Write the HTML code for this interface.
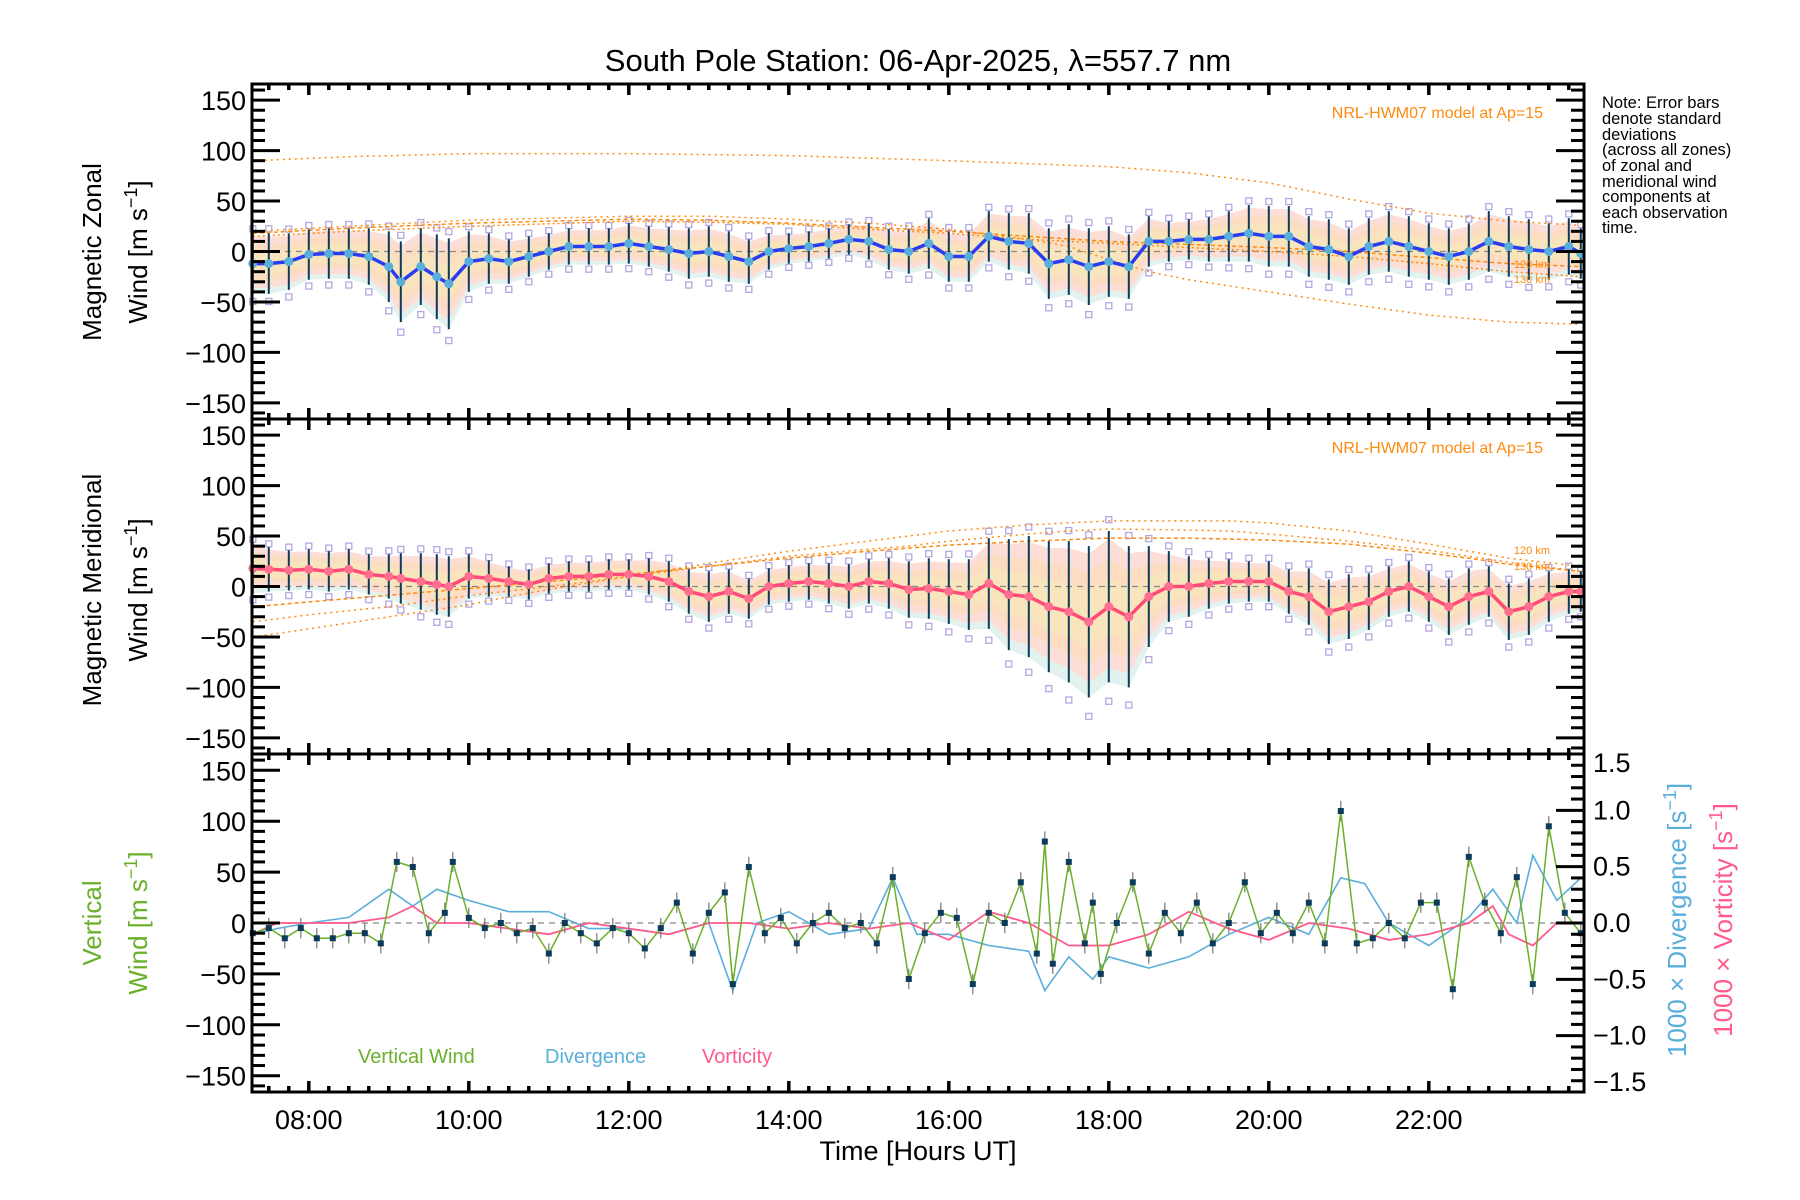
<!DOCTYPE html>
<html><head><meta charset="utf-8">
<style>
html,body{margin:0;padding:0;background:#fff;}
svg{display:block;font-family:"Liberation Sans",sans-serif;}
</style></head>
<body>
<svg id="chart" width="1800" height="1200" viewBox="0 0 1800 1200" xmlns="http://www.w3.org/2000/svg">
<text x="918" y="71" font-size="31" text-anchor="middle">South Pole Station: 06-Apr-2025, λ=557.7 nm</text>
<g font-size="16.5">
<text x="1602" y="108">Note: Error bars</text>
<text x="1602" y="124">denote standard</text>
<text x="1602" y="140">deviations</text>
<text x="1602" y="155">(across all zones)</text>
<text x="1602" y="171">of zonal and</text>
<text x="1602" y="187">meridional wind</text>
<text x="1602" y="202">components at</text>
<text x="1602" y="218">each observation</text>
<text x="1602" y="233">time.</text>
</g>
<g id="plots"></g>
<text x="918" y="1160" font-size="27" text-anchor="middle">Time [Hours UT]</text>
</svg>
<script>
// ---- data ----
const times = [7.3,7.5,7.75,8,8.25,8.5,8.75,9,9.15,9.4,9.6,9.75,10,10.25,10.5,10.75,11,11.25,11.5,11.75,12,12.25,12.5,12.75,13,13.25,13.5,13.75,14,14.25,14.5,14.75,15,15.25,15.5,15.75,16,16.25,16.5,16.75,17,17.25,17.5,17.75,18,18.25,18.5,18.75,19,19.25,19.5,19.75,20,20.25,20.5,20.75,21,21.25,21.5,21.75,22,22.25,22.5,22.75,23,23.25,23.5,23.75,23.9];
const zonalMean = [-12,-12,-10,-3,-2,-2,-5,-15,-30,-15,-25,-32,-10,-7,-10,-5,0,5,5,5,8,5,2,-2,0,-5,-10,0,3,5,8,12,10,2,0,8,-5,-5,15,10,8,-12,-8,-15,-10,-15,10,10,12,12,15,18,15,15,5,2,-5,5,10,5,0,-5,0,10,5,2,0,5,-2];
const zonalStd = [30,30,28,25,25,25,28,35,40,38,42,45,30,25,22,20,18,18,18,18,20,20,22,25,25,25,22,18,15,15,15,15,18,20,22,25,25,25,25,28,30,35,35,38,35,32,25,20,20,22,25,28,30,30,30,30,28,28,30,30,28,28,28,30,30,30,28,28,25];
const meridMean = [18,17,16,17,15,17,12,10,8,5,2,0,10,8,5,2,8,10,10,12,12,10,5,-5,-10,-5,-12,0,3,5,3,0,5,3,-3,-2,-5,-8,3,-8,-10,-20,-25,-35,-20,-30,-10,0,0,3,5,5,5,-5,-10,-25,-20,-15,-5,0,-10,-20,-10,-5,-25,-20,-10,-5,-5];
const meridStd = [25,22,20,20,20,20,20,22,25,28,30,30,22,18,15,15,15,15,15,15,15,18,20,22,25,22,20,18,18,18,20,22,22,25,28,30,32,35,45,55,60,65,70,75,75,70,50,35,30,25,22,20,20,22,28,32,32,28,25,25,25,28,28,25,28,28,25,22,20];
const modelZA = [[7.3,90],[8.5,94],[10,97],[12,97],[14,95],[16,90],[18,84],[19,78],[20,68],[21,52],[22,38],[23,30],[23.9,26]];
const modelZB = [[7.3,20],[8.5,25],[10,31],[12,35],[13,35],[14,32],[15,28],[16,22],[17,12],[17.5,5],[18,-8],[18.5,-20],[19,-28],[20,-40],[21,-52],[22,-63],[23,-70],[23.9,-72]];
const modelZ120 = [[7.3,18],[8.5,23],[10,28],[12,32],[13,31],[14,28],[15,24],[16,20],[17,15],[18,10],[19,7],[20,4],[21,0],[22,-6],[23,-12],[23.9,-15]];
const modelZ130 = [[7.3,15],[8.5,20],[10,25],[12,30],[13,29],[14,27],[15,22],[16,18],[17,12],[18,8],[19,4],[20,0],[21,-5],[22,-12],[23,-20],[23.9,-25]];
const modelMA = [[7.3,-50],[8,-42],[9,-30],[10,-18],[10.5,-10],[11,-3],[12,10],[13,23],[14,35],[15,45],[16,55],[17,61],[18,65],[19,65],[19.5,65],[20,63],[21,55],[22,42],[22.5,35],[23,28],[23.9,20]];
const modelMB = [[7.3,-35],[8,-28],[9,-20],[10,-9],[11,0],[12,10],[13,20],[14,30],[15,37],[15.5,40],[16,45],[17,52],[17.5,55],[18,57],[19,56],[19.5,55],[20,52],[21,45],[22,36],[22.5,30],[23,24],[23.9,15]];
const modelM120 = [[7.3,-20],[8.5,-12],[10,-2],[11,5],[12,12],[13,20],[14,28],[15,35],[16,41],[17,45],[18,48],[19,48],[20,46],[21,42],[22,33],[22.5,28],[23,22],[23.9,15]];
const vertTimes = [7.3,7.5,7.7,7.9,8.1,8.3,8.5,8.7,8.9,9.1,9.3,9.5,9.7,9.8,10,10.2,10.4,10.6,10.8,11,11.2,11.4,11.6,11.8,12,12.2,12.4,12.6,12.8,13,13.2,13.3,13.5,13.7,13.9,14.1,14.3,14.5,14.7,14.9,15.1,15.3,15.5,15.7,15.9,16.1,16.3,16.5,16.7,16.9,17.1,17.2,17.3,17.5,17.7,17.8,17.9,18.1,18.3,18.5,18.7,18.9,19.1,19.3,19.5,19.7,19.9,20.1,20.3,20.5,20.7,20.9,21.1,21.3,21.5,21.7,21.9,22.1,22.3,22.5,22.7,22.9,23.1,23.3,23.5,23.7,23.9];
const vertWind = [-10,-5,-15,-5,-15,-15,-10,-10,-20,60,55,-10,10,60,5,-5,0,-10,-5,-30,0,-10,-20,-5,-10,-25,-5,20,-30,10,30,-60,55,-10,5,-20,0,10,-5,0,-20,45,-55,-10,10,5,-60,10,0,40,-30,80,-40,60,-20,20,-50,0,40,-30,10,-10,20,-20,0,40,-10,10,-10,20,-20,110,-20,-15,0,-15,20,20,-65,65,20,-10,45,-60,95,10,-10];
const divTimes = [7.3,7.6,8,8.5,9,9.3,9.6,10,10.5,11,11.5,12,12.5,13,13.3,13.6,14,14.5,15,15.3,15.6,16,16.5,17,17.2,17.5,17.8,18,18.5,19,19.5,20,20.5,20.9,21.2,21.5,22,22.5,22.8,23.1,23.3,23.6,23.9];
const divergence = [-0.1,-0.05,0,0.05,0.3,0.15,0.3,0.2,0.1,0.1,-0.05,-0.05,-0.1,0,-0.6,0,0.1,-0.1,-0.05,0.4,-0.1,-0.1,-0.2,-0.25,-0.6,-0.3,-0.5,-0.3,-0.4,-0.3,-0.1,0.05,-0.1,0.4,0.35,0,-0.2,0.05,0.3,0,0.6,0.2,0.4];
const vortTimes = [7.3,7.6,8,8.5,9,9.3,9.6,10,10.5,11,11.5,12,12.5,13,13.5,14,14.5,15,15.5,16,16.5,17,17.5,18,18.5,19,19.5,20,20.5,21,21.5,22,22.5,22.8,23,23.3,23.6,23.9];
const vorticity = [-0.1,0,0,0,0.05,0.15,0,0,-0.05,-0.1,0,-0.05,-0.1,0,0,-0.05,0,-0.05,0,-0.15,0.1,0,-0.2,-0.2,-0.1,0.1,-0.05,-0.15,0,-0.05,-0.15,-0.1,0,0.15,-0.1,-0.2,0,0];
const xTickLabels = ["08:00","10:00","12:00","14:00","16:00","18:00","20:00","22:00"];
const yTickLabels = ["150","100","50","0","−50","−100","−150"];
const rTickLabels = ["1.5","1.0","0.5","0.0","−0.5","−1.0","−1.5"];

// ---- layout ----
const NS = "http://www.w3.org/2000/svg";
const X0 = 252, X1 = 1584, T0 = 7.29, T1 = 23.94;
const panels = [{top:84,bot:419},{top:419,bot:754},{top:754,bot:1092}];
const YR = 166;
const xs = t => X0 + (t - T0) / (T1 - T0) * (X1 - X0);
const ysF = p => v => (p.top + p.bot) / 2 - v / YR * ((p.bot - p.top) / 2);
const yrF = p => v => (p.top + p.bot) / 2 - v / 1.5 * ((p.bot - p.top) / 2);
const root = document.getElementById('plots');
function mk(tag, attrs, parent) {
  const e = document.createElementNS(NS, tag);
  for (const k in attrs) e.setAttribute(k, attrs[k]);
  (parent || root).appendChild(e);
  return e;
}
function pathOf(pts) { return pts.map((p, i) => (i ? 'L' : 'M') + p[0].toFixed(1) + ' ' + p[1].toFixed(1)).join(''); }

function windPanel(idx, mean, std, lineCol, models, labels) {
  const p = panels[idx], ys = ysF(p);
  const g = mk('g', {});
  
  
  const n = Math.min(times.length, mean.length, std.length);
  const bands = [[0.9, '#fbc2b4', 0.55], [0.65, '#fbdcae', 0.5], [0.4, '#f6eeb8', 0.5]];
  bands.forEach(b => {
    const up = [], lo = [];
    for (let i = 0; i < n; i++) { up.push([xs(times[i]), ys(mean[i] + std[i] * b[0])]); lo.push([xs(times[i]), ys(mean[i] - std[i] * b[0] * 0.9)]); }
    const band = mk('path', {d: pathOf(up.concat(lo.reverse())) + 'Z', fill: b[1], opacity: b[2]}, g);
    
    
  });
  const lo2 = [], lo3 = [];
  for (let i = 0; i < n; i++) { lo2.push([xs(times[i]), ys(mean[i] - std[i] * 0.81)]); lo3.push([xs(times[i]), ys(mean[i] - std[i] * 1.0)]); }
  const cool = mk('path', {d: pathOf(lo2.concat(lo3.slice().reverse())) + 'Z', fill: '#cfe9e4', opacity: 0.6}, g);
  
  
  mk('line', {x1: X0, x2: X1, y1: ys(0), y2: ys(0), stroke: '#888', 'stroke-dasharray': '6 5', 'stroke-width': 1.2}, g);
  for (let i = 0; i < n; i++) {
    [1.15, -1.25].forEach(f => {
      const sq = mk('rect', {x: xs(times[i]) - 3, y: ys(mean[i] + std[i] * f) - 3, width: 6, height: 6, fill: 'none', stroke: '#b3a8e0', 'stroke-width': 1.3}, g);
      
      
    });
  }
  models.forEach(m => {
    const ml = mk('path', {d: pathOf(m.pts.map(q => [xs(q[0]), ys(q[1])])), fill: 'none', stroke: '#ff8a10', 'stroke-width': 1.5, 'stroke-dasharray': m.dash}, g);
    
    
  });
  for (let i = 0; i < n; i++) {
    const eb = mk('line', {x1: xs(times[i]), x2: xs(times[i]), y1: ys(mean[i] + std[i]), y2: ys(mean[i] - std[i]), stroke: '#0b3a5a', 'stroke-width': 2}, g);
    
    
  }
  const pts = []; for (let i = 0; i < n; i++) pts.push([xs(times[i]), ys(mean[i])]);
  const ln = mk('path', {d: pathOf(pts), fill: 'none', stroke: lineCol, 'stroke-width': 3.5}, g);
  
  
  pts.forEach(q => {
    const c = mk('circle', {cx: q[0], cy: q[1], r: 4.5, fill: idx === 0 ? '#5aaedb' : '#ff6f8f'}, g);
    
    
  });
  const lab = mk('text', {x: 1543, y: idx === 0 ? 118 : 453, 'font-size': 16, fill: '#ff8a10', 'text-anchor': 'end'}, g);
  lab.textContent = 'NRL-HWM07 model at Ap=15';
  
  
  labels.forEach(l => {
    const t = mk('text', {x: 1550, y: l[1], 'font-size': 11, fill: '#ff8a10', 'text-anchor': 'end'}, g);
    t.textContent = l[0];
    
    
  });
}

windPanel(0, zonalMean, zonalStd, '#2a3cf0',
  [{pts: modelZA, dash: '2 4'}, {pts: modelZB, dash: '2 4'}, {pts: modelZ120, dash: '4 3'}, {pts: modelZ130, dash: '2 3'}],
  [['120 km', 268], ['130 km', 283]]);
windPanel(1, meridMean, meridStd, '#ff4a78',
  [{pts: modelMA, dash: '2 4'}, {pts: modelMB, dash: '2 4'}, {pts: modelM120, dash: '4 3'}],
  [['120 km', 554], ['130 km', 570]]);

(function () {
  const p = panels[2], ys = ysF(p), yr = yrF(p);
  const g = mk('g', {});
  
  
  mk('line', {x1: X0, x2: X1, y1: ys(0), y2: ys(0), stroke: '#888', 'stroke-dasharray': '6 5', 'stroke-width': 1.2}, g);
  const dl = mk('path', {d: pathOf(divTimes.map((t, i) => [xs(t), yr(divergence[i])])), fill: 'none', stroke: '#5aaedb', 'stroke-width': 1.6}, g);
  
  
  const vl = mk('path', {d: pathOf(vortTimes.map((t, i) => [xs(t), yr(vorticity[i])])), fill: 'none', stroke: '#ff5a8a', 'stroke-width': 1.8}, g);
  
  
  vertTimes.forEach((t, i) => {
    const eb = mk('line', {x1: xs(t), x2: xs(t), y1: ys(vertWind[i] + 10), y2: ys(vertWind[i] - 10), stroke: '#777', 'stroke-width': 1.2}, g);
    
    
  });
  const wl = mk('path', {d: pathOf(vertTimes.map((t, i) => [xs(t), ys(vertWind[i])])), fill: 'none', stroke: '#6ab02a', 'stroke-width': 1.5}, g);
  
  
  vertTimes.forEach((t, i) => {
    const r = mk('rect', {x: xs(t) - 3, y: ys(vertWind[i]) - 3, width: 6, height: 6, fill: '#0b3a5a'}, g);
    
    
  });
  [['Vertical Wind', 358, '#6ab02a', 'legend-vertical-wind'], ['Divergence', 545, '#5aaedb', 'legend-divergence'], ['Vorticity', 702, '#ff5a8a', 'legend-vorticity']].forEach(l => {
    const t = mk('text', {x: l[1], y: 1063, 'font-size': 20, fill: l[2]}, g);
    t.textContent = l[0];
    
    
  });
  for (let k = -15; k <= 15; k++) {
    const v = k / 10, y = yr(v), major = k % 5 === 0;
    mk('line', {x1: X1, x2: X1 - (major ? 28 : 13), y1: y, y2: y, stroke: '#000', 'stroke-width': 3}, g);
  }
  rTickLabels.forEach((s, i) => {
    const v = 1.5 - i * 0.5;
    let y = yr(v) + 9; if (i === 0) y += 9; if (i === 6) y -= 10;
    const t = mk('text', {x: 1593, y: y, 'font-size': 27}, g);
    t.textContent = s;
    
    
  });
})();

panels.forEach((p, idx) => {
  const ys = ysF(p);
  const g = mk('g', {});
  
  
  mk('rect', {x: X0, y: p.top, width: X1 - X0, height: p.bot - p.top, fill: 'none', stroke: '#000', 'stroke-width': 3}, g);
  for (let t = 7.5; t <= T1; t += 0.25) {
    const major = Math.abs(t % 2) < 1e-6, L = major ? 11 : 6, x = xs(t);
    mk('line', {x1: x, x2: x, y1: p.bot, y2: p.bot - L, stroke: '#000', 'stroke-width': 3.5}, g);
    mk('line', {x1: x, x2: x, y1: p.top, y2: p.top + L, stroke: '#000', 'stroke-width': 3.5}, g);
  }
  for (let v = -160; v <= 160; v += 10) {
    const major = v % 50 === 0, L = major ? 28 : 13, y = ys(v);
    mk('line', {x1: X0, x2: X0 + L, y1: y, y2: y, stroke: '#000', 'stroke-width': 3}, g);
    if (idx < 2) mk('line', {x1: X1, x2: X1 - L, y1: y, y2: y, stroke: '#000', 'stroke-width': 3}, g);
  }
  yTickLabels.forEach((s, i) => {
    const v = 150 - i * 50;
    const t = mk('text', {x: 246, y: ys(v) + 10, 'font-size': 27, 'text-anchor': 'end'}, g);
    t.textContent = s;
    
    
  });
});
xTickLabels.forEach((s, i) => {
  const t = mk('text', {x: xs(8 + 2 * i), y: 1129, 'font-size': 27, 'text-anchor': 'middle'});
  t.textContent = s;
  
  
});
function vtitle(txt, x, y, col, name) {
  const t = mk('text', {x: 0, y: 0, 'font-size': 26, 'text-anchor': 'middle', fill: col, transform: `translate(${x},${y}) rotate(-90)`});
  t.innerHTML = txt;
  
  
}
vtitle('Magnetic Zonal', 101, 252, '#000', 'zonal-y-title');
vtitle('Wind [m s<tspan dy="-10" font-size="18">−1</tspan><tspan dy="10">]</tspan>', 147, 252, '#000', 'zonal-y-units');
vtitle('Magnetic Meridional', 101, 590, '#000', 'meridional-y-title');
vtitle('Wind [m s<tspan dy="-10" font-size="18">−1</tspan><tspan dy="10">]</tspan>', 147, 590, '#000', 'meridional-y-units');
vtitle('Vertical', 101, 923, '#6ab02a', 'vertical-y-title');
vtitle('Wind [m s<tspan dy="-10" font-size="18">−1</tspan><tspan dy="10">]</tspan>', 147, 923, '#6ab02a', 'vertical-y-units');
vtitle('1000 × Divergence [s<tspan dy="-10" font-size="18">−1</tspan><tspan dy="10">]</tspan>', 1686, 920, '#5aaedb', 'divergence-y-title');
vtitle('1000 × Vorticity [s<tspan dy="-10" font-size="18">−1</tspan><tspan dy="10">]</tspan>', 1732, 920, '#ff5a8a', 'vorticity-y-title');
</script>
</body></html>
